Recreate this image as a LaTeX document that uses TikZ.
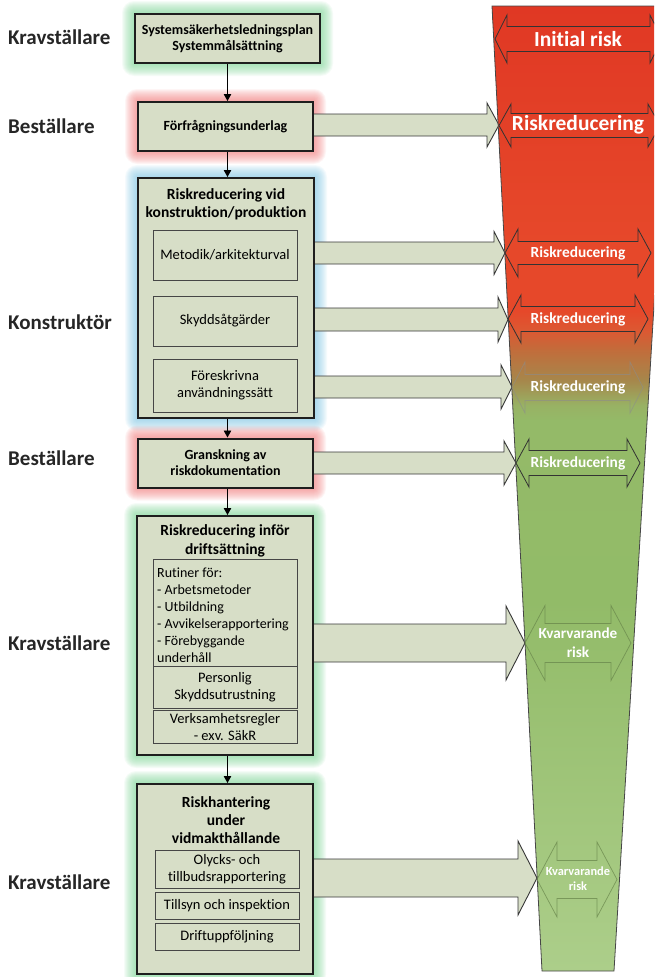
\documentclass[tikz,border=0pt]{standalone}
\usepackage{fontspec}
\setmainfont{Carlito}[Ligatures=NoCommon]
\usetikzlibrary{calc,arrows.meta}

\definecolor{boxfill}{RGB}{215,222,199}
\definecolor{boxline}{RGB}{30,30,30}
\definecolor{innerline}{RGB}{70,70,70}
\definecolor{arrowline}{RGB}{55,55,55}
\definecolor{funnelline}{RGB}{70,70,70}
\definecolor{glowgreen}{RGB}{124,211,148}
\definecolor{glowred}{RGB}{240,122,122}
\definecolor{glowblue}{RGB}{126,196,226}
% funnel colours, bottom to top
\definecolor{gB}{RGB}{172,206,138}
\definecolor{gM}{RGB}{146,187,104}
\definecolor{gT}{RGB}{148,186,104}
\definecolor{gU}{RGB}{152,178,100}
\definecolor{brn}{RGB}{166,135,75}
\definecolor{org}{RGB}{192,110,60}
\definecolor{orr}{RGB}{220,88,50}
\definecolor{rM}{RGB}{230,72,42}
\definecolor{rT}{RGB}{224,56,36}

\pgfdeclareverticalshading{funnelshade}{100bp}{%
  color(0bp)=(gB); color(25bp)=(gB); color(44.2bp)=(gM); color(53.5bp)=(gT);
  color(54.3bp)=(gU); color(55.6bp)=(brn); color(57.1bp)=(org); color(58.2bp)=(orr);
  color(59.2bp)=(rM); color(62.8bp)=(rM); color(75bp)=(rT); color(100bp)=(rT)}

\pgfdeclarelayer{halo}
\pgfdeclarelayer{arrowlayer}
\pgfsetlayers{halo,arrowlayer,main}

% soft coloured halo round a box
\newcommand\haloaround[2]{%
  \foreach \g in {1,...,12}{%
    \fill[#2, opacity=0.08, rounded corners=\g pt]
      ($(#1.north west)+(-\g,-\g)$) rectangle ($(#1.south east)+(\g,\g)$);}}

% block arrow: start x, head base x, tip x, centre y, shaft half, head half
\newcommand\blockarrow[6]{%
  \filldraw[blockarrowstyle] (#1,#4-#5) -- (#2,#4-#5) -- (#2,#4-#6) -- (#3,#4)
    -- (#2,#4+#6) -- (#2,#4+#5) -- (#1,#4+#5);}

% double-headed outline arrow: style, left tip, right tip, centre y, head half, shaft half, head length
\newcommand\dblarrow[7]{%
  \draw[#1] (#2,#4) -- (#2+#7,#4-#5) -- (#2+#7,#4-#6) -- (#3-#7,#4-#6) -- (#3-#7,#4-#5)
    -- (#3,#4) -- (#3-#7,#4+#5) -- (#3-#7,#4+#6) -- (#2+#7,#4+#6) -- (#2+#7,#4+#5) -- cycle;}

\begin{document}
\begin{tikzpicture}[x=1pt,y=-1pt,
  outerbox/.style={draw=boxline, line width=2pt, fill=boxfill, inner sep=2pt,
    align=center, font=\fontsize{14}{16}\selectfont\bfseries},
  innerbox/.style={draw=innerline, line width=0.8pt, fill=boxfill, inner sep=2pt,
    align=center, font=\fontsize{14.5}{17}\selectfont},
  boxtitle/.style={align=center, font=\fontsize{15.5}{18.5}\selectfont\bfseries},
  rolelabel/.style={anchor=west, inner sep=0pt, font=\fontsize{21}{24}\selectfont\bfseries, text=black!85},
  conn/.style={draw=black, line width=0.9pt, -{Triangle[length=7pt,width=7.5pt]}},
  blockarrowstyle/.style={fill=boxfill, draw=arrowline, line width=0.9pt},
  darkdbl/.style={draw=black!80, line width=0.8pt},
  fadedbl/.style={draw=black!45, line width=0.7pt, opacity=0.6},
  greendbl/.style={draw=black!30!gM, line width=0.7pt, opacity=0.7},
  risktext/.style={text=white, align=center, inner sep=0pt}]

\useasboundingbox (0,0) rectangle (654,977);

% ---------- risk funnel ----------
\begin{scope}
  \clip (0,0) rectangle (654,977);
  \path[shading=funnelshade, shade, draw=funnelline, line width=0.8pt]
    (492,6) -- (672,6) -- (614,971) -- (542,971) -- cycle;
  \dblarrow{darkdbl}{495}{662}{39}{24}{12.5}{12}
  \dblarrow{darkdbl}{499}{660}{125.5}{21.5}{12}{12}
  \dblarrow{darkdbl}{505}{651}{253}{24}{11.5}{13}
  \dblarrow{darkdbl}{508}{648}{319}{24}{12.5}{13}
  \dblarrow{fadedbl}{512}{643}{387.5}{25.5}{13}{13}
  \dblarrow{darkdbl}{516}{640}{463}{24}{12.5}{13}
  \dblarrow{greendbl}{525}{631}{643}{37.5}{19.5}{20}
  \dblarrow{greendbl}{537}{617}{879.5}{37.5}{19}{20}
\end{scope}
\node[risktext, font=\fontsize{21.5}{24}\selectfont\bfseries] (r0) at (578,39) {Initial risk};
\node[risktext, font=\fontsize{21.5}{24}\selectfont\bfseries] (r1) at (578,125) {Riskreducering};
\node[risktext, font=\fontsize{15.4}{18}\selectfont\bfseries] (r2) at (578,253) {Riskreducering};
\node[risktext, font=\fontsize{15.4}{18}\selectfont\bfseries] (r3) at (578,319) {Riskreducering};
\node[risktext, font=\fontsize{15.4}{18}\selectfont\bfseries] (r4) at (578,387) {Riskreducering};
\node[risktext, font=\fontsize{15.4}{18}\selectfont\bfseries] (r5) at (578,463) {Riskreducering};
\node[risktext, font=\fontsize{15.2}{19}\selectfont\bfseries] (r6) at (578,643) {Kvarvarande\\risk};
\node[risktext, font=\fontsize{12.4}{15}\selectfont\bfseries] (r7) at (578,879) {Kvarvarande\\risk};

% ---------- role labels ----------
\node[rolelabel] (l1) at (8,37) {Kravställare};
\node[rolelabel] (l2) at (8,126) {Beställare};
\node[rolelabel] (l3) at (8,322) {Konstruktör};
\node[rolelabel] (l4) at (8,458) {Beställare};
\node[rolelabel] (l5) at (8,643) {Kravställare};
\node[rolelabel] (l6) at (8,882) {Kravställare};

% ---------- process boxes ----------
\node[outerbox, minimum width=185pt, minimum height=49pt] (c1) at (227.5,38.5)
  {Systemsäkerhetsledningsplan\\Systemmålsättning};
\node[outerbox, minimum width=175pt, minimum height=49pt] (c2) at (225.5,126.5)
  {Förfrågningsunderlag};
\node[outerbox, minimum width=176pt, minimum height=240pt] (c3) at (226,298) {};
\node[outerbox, minimum width=175pt, minimum height=49pt] (c4) at (225.5,463)
  {Granskning av\\riskdokumentation};
\node[outerbox, minimum width=176pt, minimum height=239pt] (c5) at (225,635.5) {};
\node[outerbox, minimum width=176pt, minimum height=190pt] (c6) at (225,879) {};

% halos behind the boxes
\begin{pgfonlayer}{halo}
  \haloaround{c1}{glowgreen}
  \haloaround{c2}{glowred}
  \haloaround{c3}{glowblue}
  \haloaround{c4}{glowred}
  \haloaround{c5}{glowgreen}
  \haloaround{c6}{glowgreen}
\end{pgfonlayer}

% block arrows into the funnel, tucked under the box frames
\begin{pgfonlayer}{arrowlayer}
  \blockarrow{313}{487}{499}{125}{11}{22}
  \blockarrow{314}{494}{505}{253}{11}{21.5}
  \blockarrow{314}{498}{508}{319.5}{11.5}{22.5}
  \blockarrow{314}{501}{512}{387}{11}{22}
  \blockarrow{313}{504}{516}{463}{11}{22}
  \blockarrow{313}{506}{525}{643}{19}{37}
  \blockarrow{313}{518}{537}{878}{19}{37}
\end{pgfonlayer}

% construction box contents
\node[boxtitle] (t3) at (226,204.5) {Riskreducering vid\\konstruktion/produktion};
\node[innerbox, minimum width=144pt, minimum height=50pt] (i31) at (225,255) {Metodik/arkitekturval};
\node[innerbox, minimum width=144pt, minimum height=50pt] (i32) at (225,321) {Skyddsåtgärder};
\node[innerbox, minimum width=144pt, minimum height=53pt] (i33) at (225,385.5) {Föreskrivna\\användningssätt};

% commissioning box contents
\node[boxtitle] (t5) at (225,541) {Riskreducering inför\\driftsättning};
\node[innerbox, minimum width=144pt, minimum height=107pt] (i51) at (225,612.5) {};
\node[anchor=north west, inner sep=0pt, align=left, font=\fontsize{14}{17}\selectfont]
  (i51t) at (157,567.5) {Rutiner för:\\- Arbetsmetoder\\- Utbildning\\- Avvikelserapportering\\- Förebyggande\\underhåll};
\node[innerbox, minimum width=144pt, minimum height=42pt] (i52) at (225,687) {Personlig\\Skyddsutrustning};
\node[innerbox, minimum width=144pt, minimum height=33pt] (i53) at (225,727) {Verksamhetsregler\\- exv. SäkR};

% maintenance box contents
\node[boxtitle, font=\fontsize{15.5}{18}\selectfont\bfseries] (t6) at (226,820) {Riskhantering\\under\\vidmakthållande};
\node[innerbox, minimum width=144pt, minimum height=38pt] (i61) at (227,869) {Olycks- och\\tillbudsrapportering};
\node[innerbox, minimum width=144pt, minimum height=27pt] (i62) at (227,905.5) {Tillsyn och inspektion};
\node[innerbox, minimum width=144pt, minimum height=27pt] (i63) at (227,936.5) {Driftuppföljning};

% ---------- flow between boxes ----------
\draw[conn] (c1.south) -- (c1.south |- c2.north);
\draw[conn] (c2.south -| c1.south) -- (c1.south |- c3.north);
\draw[conn] (c3.south -| c1.south) -- (c1.south |- c4.north);
\draw[conn] (c4.south -| c1.south) -- (c1.south |- c5.north);
\draw[conn] (c5.south -| c1.south) -- (c1.south |- c6.north);

\end{tikzpicture}
\end{document}
